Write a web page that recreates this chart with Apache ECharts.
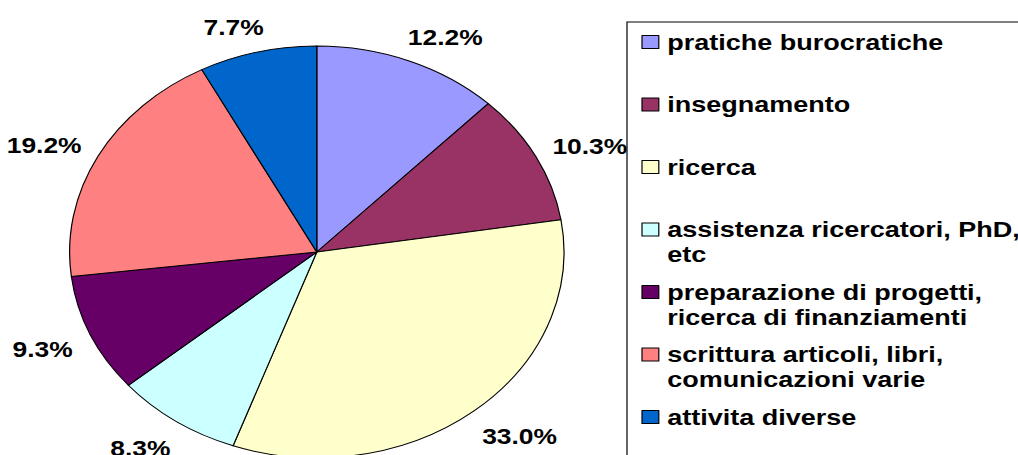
<!DOCTYPE html>
<html>
<head>
<meta charset="utf-8">
<script src="https://cdn.jsdelivr.net/npm/echarts@6/dist/echarts.min.js"></script>
<style>
  html, body { margin: 0; padding: 0; background: #fff; overflow: hidden; }
  /* the source picture is stretched sideways, so the chart is drawn round and widened */
  #chart {
    position: absolute; left: 0; top: 0;
    width: 850px; height: 500px;
    transform: scaleX(1.2); transform-origin: 0 0;
  }
</style>
</head>
<body>
<div id="chart"></div>
<script>
// categories (legend text, with its line breaks)
const categories = [
  'pratiche burocratiche',
  'insegnamento',
  'ricerca',
  'assistenza ricercatori, PhD,\netc',
  'preparazione di progetti,\nricerca di finanziamenti',
  'scrittura articoli, libri,\ncomunicazioni varie',
  'attivita diverse'
];
// share of time, %
const values = [12.2, 10.3, 33.0, 8.3, 9.3, 19.2, 7.7];
const colors = ['#9999FF', '#993366', '#FFFFCC', '#CCFFFF', '#660066', '#FF8080', '#0066CC'];

const font = '"Liberation Sans", Arial, sans-serif';

const pieData = categories.map((name, i) => ({ name: name, value: values[i] }));

const chart = echarts.init(document.getElementById('chart'), null, { renderer: 'svg' });

chart.setOption({
  animation: false,
  color: colors,
  textStyle: { fontFamily: font },
  graphic: [
    {
      type: 'rect',
      shape: { x: 522.5, y: 22, width: 600, height: 600 },
      style: { fill: 'none', stroke: '#000', lineWidth: 1 },
      silent: true
    }
  ],
  legend: {
    orient: 'vertical',
    left: 534.5,
    top: 4.5,
    padding: 0,
    itemGap: -12.5,
    itemWidth: 14,
    itemHeight: 13,
    icon: 'rect',
    selectedMode: false,
    itemStyle: { borderColor: '#000', borderWidth: 1 },
    // two-line entries get an empty first line so the icon sits on the first text line
    formatter: name => (name.includes('\n') ? '\n' + name : name),
    textStyle: {
      fontFamily: font,
      fontSize: 22.5,
      fontWeight: 'bold',
      color: '#000',
      lineHeight: 25
    },
    // every entry is 75px high
    data: categories.map(name => ({
      name: name,
      textStyle: {
        padding: name.includes('\n') ? [0, 0, 0, 2] : [25, 0, 25, 2]
      }
    }))
  },
  series: [
    {
      type: 'pie',
      center: [264, 252],
      radius: 206,
      startAngle: 90,
      clockwise: true,
      silent: true,
      avoidLabelOverlap: false,
      itemStyle: { borderColor: '#000', borderWidth: 1 },
      label: {
        show: true,
        position: 'outside',
        distanceToLabelLine: -12,
        offset: [0, 3],
        fontFamily: font,
        fontSize: 22,
        fontWeight: 'bold',
        color: '#000',
        formatter: p => p.value.toFixed(1) + '%'
      },
      labelLine: { show: false, length: 29, length2: 0 },
      data: pieData
    }
  ]
});
</script>
</body>
</html>
